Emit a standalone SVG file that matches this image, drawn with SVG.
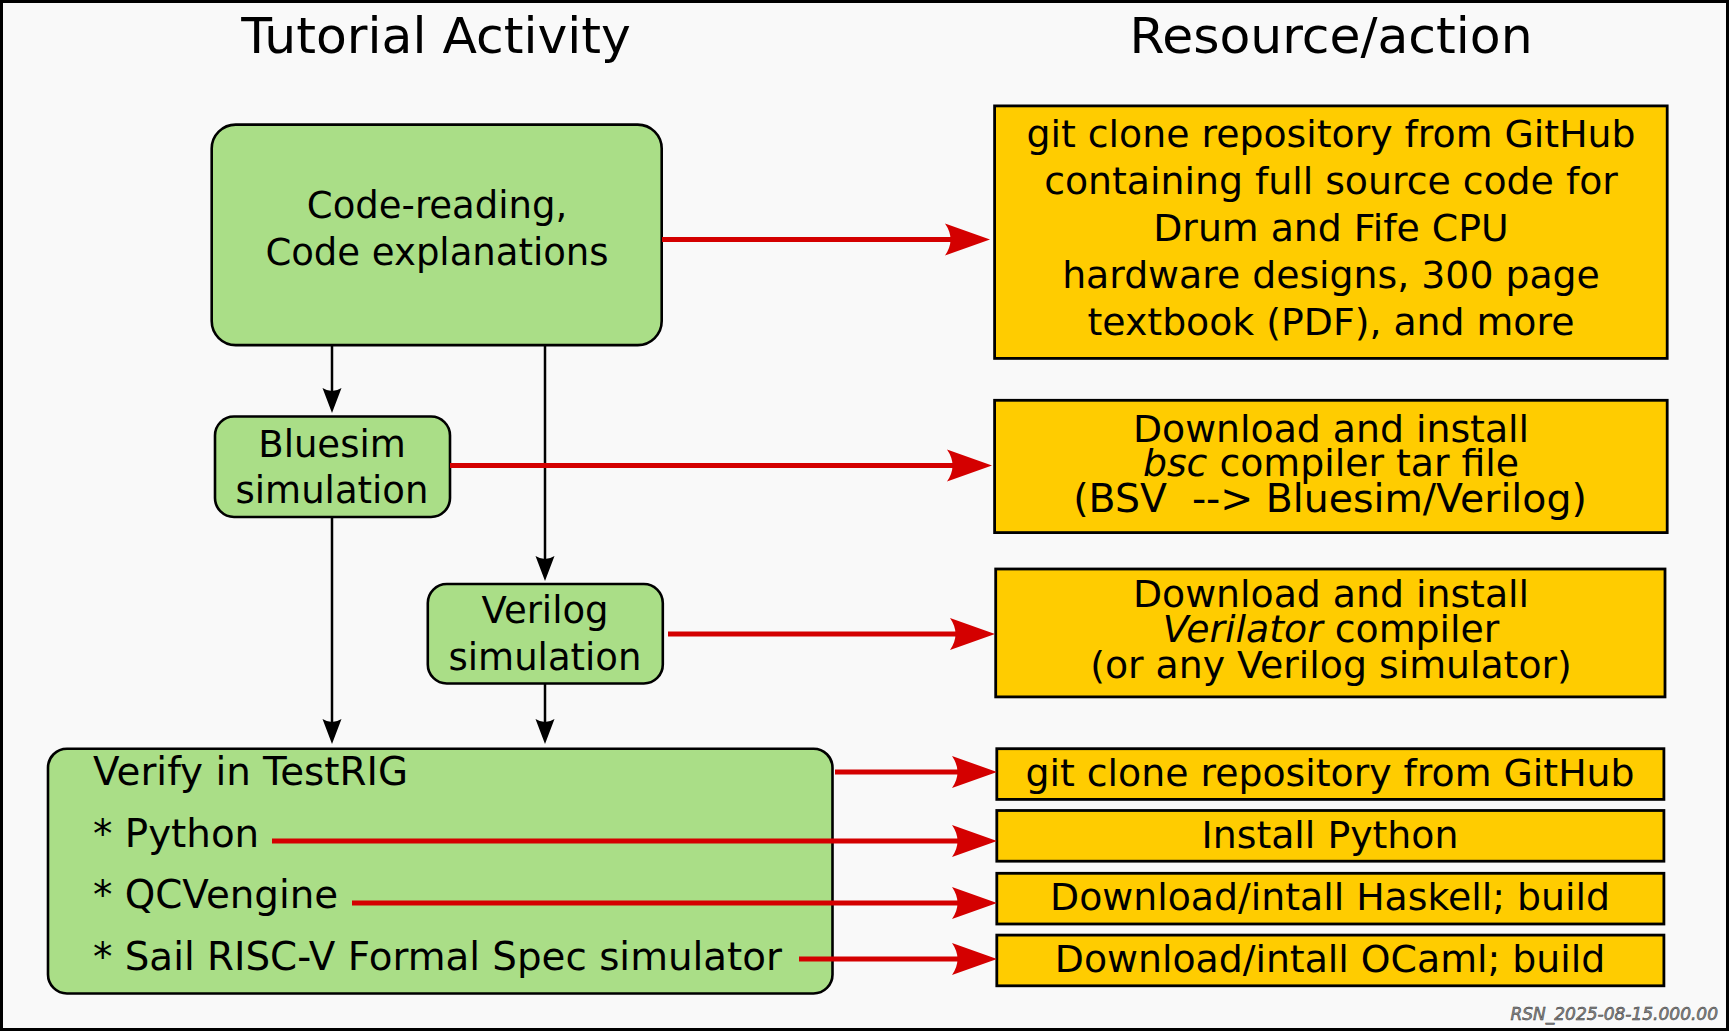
<svg xmlns="http://www.w3.org/2000/svg" width="1729" height="1031" viewBox="0 0 1729 1031">
<style>
text{font-family:"DejaVu Sans","Liberation Sans",sans-serif;fill:#000}
.t{font-size:50.4px;text-anchor:middle}
.g{fill:#aade87;stroke:#000;stroke-width:2.6}
.y{fill:#ffcc00;stroke:#000;stroke-width:2.8}
.c{font-size:37px;text-anchor:middle}
.cy{font-size:37.8px;text-anchor:middle}
.cw{font-size:39.4px;text-anchor:middle}
.l{font-size:38.8px}
.r{stroke:#d40000;stroke-width:5;fill:none;marker-end:url(#ahr)}
.k{stroke:#000;stroke-width:2.5;fill:none;marker-end:url(#ahk)}
.wm{font-size:17px;font-style:italic;text-anchor:end;fill:#8a8a8a;stroke:#333;stroke-width:0.5}
</style>
<defs>
<marker id="ahr" viewBox="-16 -17 47 34" markerWidth="47" markerHeight="34" refX="0" refY="0" orient="auto" markerUnits="userSpaceOnUse"><path d="M30,0 L-15,-16 Q-4,0 -15,16 Z" fill="#d40000"/></marker>
<marker id="ahk" viewBox="-8 -10 27 20" markerWidth="27" markerHeight="20" refX="0" refY="0" orient="auto" markerUnits="userSpaceOnUse"><path d="M18,0 L-7,-9.5 Q-1,0 -7,9.5 Z" fill="#000"/></marker>
</defs>
<rect x="1.5" y="1.5" width="1726" height="1028" fill="#f9f9f9" stroke="#000" stroke-width="3"/>
<text class="t" x="436" y="53">Tutorial Activity</text>
<text class="t" x="1331" y="53">Resource/action</text>

<g id="code-reading">
<rect class="g" x="211.7" y="124.6" width="450" height="220.5" rx="24"/>
<text class="c" x="437" y="218">Code-reading,</text>
<text class="c" x="437" y="265">Code explanations</text>
</g>
<g id="bluesim">
<rect class="g" x="215" y="416.5" width="235" height="100.5" rx="19"/>
<text class="c" x="332" y="457">Bluesim</text>
<text class="c" x="332" y="503">simulation</text>
</g>
<g id="verilog">
<rect class="g" x="427.8" y="584" width="235" height="99.5" rx="19"/>
<text class="c" x="545" y="623">Verilog</text>
<text class="c" x="545" y="670">simulation</text>
</g>
<g id="verify">
<rect class="g" x="48" y="748.7" width="784.5" height="244.8" rx="19"/>
<text class="l" x="93" y="785">Verify in TestRIG</text>
<text class="l" x="93" y="847">* Python</text>
<text class="l" x="93" y="908">* QCVengine</text>
<text class="l" x="93" y="970">* Sail RISC-V Formal Spec simulator</text>
</g>

<g id="res-git">
<rect class="y" x="994.6" y="105.9" width="672.6" height="252.5"/>
<text class="cy" x="1331" y="147">git clone repository from GitHub</text>
<text class="cy" x="1331" y="194">containing full source code for</text>
<text class="cy" x="1331" y="241">Drum and Fife CPU</text>
<text class="cy" x="1331" y="288">hardware designs, 300 page</text>
<text class="cy" x="1331" y="335">textbook (PDF), and more</text>
</g>
<g id="res-bsc">
<rect class="y" x="994.6" y="400.3" width="672.6" height="132.3"/>
<text class="cy" x="1331" y="441.5">Download and install</text>
<text class="cy" x="1331" y="476"><tspan font-style="italic">bsc</tspan> compiler tar file</text>
<text class="cw" x="1330" y="511.5" xml:space="preserve">(BSV  --&gt; Bluesim/Verilog)</text>
</g>
<g id="res-verilator">
<rect class="y" x="995.7" y="569" width="669.3" height="127.9"/>
<text class="cy" x="1331" y="606.5">Download and install</text>
<text class="cy" x="1331" y="642"><tspan font-style="italic">Verilator</tspan> compiler</text>
<text class="cy" x="1331" y="678">(or any Verilog simulator)</text>
</g>
<g id="res-testrig">
<rect class="y" x="996.8" y="748.7" width="667.1" height="50.7"/>
<text class="cy" x="1330" y="786">git clone repository from GitHub</text>
</g>
<g id="res-python">
<rect class="y" x="996.8" y="810.5" width="667.1" height="50.7"/>
<text class="cy" x="1330" y="848">Install Python</text>
</g>
<g id="res-haskell">
<rect class="y" x="996.8" y="873.3" width="667.1" height="50.7"/>
<text class="cy" x="1330" y="910">Download/intall Haskell; build</text>
</g>
<g id="res-ocaml">
<rect class="y" x="996.8" y="935.1" width="667.1" height="50.7"/>
<text class="cy" x="1330" y="972">Download/intall OCaml; build</text>
</g>

<g id="connectors">
<line class="k" x1="332" y1="345" x2="332" y2="395"/>
<line class="k" x1="545" y1="345" x2="545" y2="563"/>
<line class="k" x1="332" y1="517" x2="332" y2="726"/>
<line class="k" x1="545" y1="683" x2="545" y2="726"/>
<line class="r" x1="662" y1="239.5" x2="960" y2="239.5"/>
<line class="r" x1="450" y1="465.5" x2="962" y2="465.5"/>
<line class="r" x1="668" y1="634" x2="965" y2="634"/>
<line class="r" x1="835" y1="772" x2="967" y2="772"/>
<line class="r" x1="272" y1="841" x2="967" y2="841"/>
<line class="r" x1="352" y1="903" x2="967" y2="903"/>
<line class="r" x1="799" y1="959" x2="967" y2="959"/>
</g>
<text class="wm" x="1718" y="1020">RSN_2025-08-15.000.00</text>
</svg>
